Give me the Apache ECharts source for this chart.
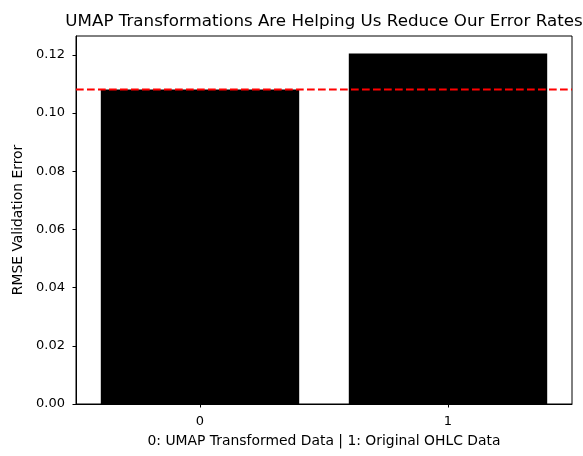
<!DOCTYPE html>
<html>
<head>
<meta charset="utf-8">
<script src="https://cdn.jsdelivr.net/npm/echarts@6/dist/echarts.min.js"></script>
<style>
html, body { margin: 0; padding: 0; background: #fff; }
#chart { width: 583px; height: 456px; }
</style>
</head>
<body>
<div id="chart"></div>
<script>
// Validation RMSE for each input representation
const categories = ['0', '1'];
const rmseValues = [0.1081, 0.1205];
const baselineError = 0.1081;
const yTicks = [0, 0.02, 0.04, 0.06, 0.08, 0.10, 0.12];
const yMax = 0.1265;
// horizontal reference line spans the whole x range (category centres at 0 and 1)
const xSpan = [-0.5, 1.5];

const FONT = 'DejaVu Sans';

const chart = echarts.init(document.getElementById('chart'), null, { renderer: 'canvas' });

chart.setOption({
  animation: false,
  backgroundColor: '#ffffff',
  title: {
    text: 'UMAP Transformations Are Helping Us Reduce Our Error Rates',
    left: 319,
    top: 8,
    textAlign: 'center',
    textStyle: { fontFamily: FONT, fontSize: 16.7, fontWeight: 'normal', color: '#000' }
  },
  grid: {
    left: 76, right: 11, top: 36, bottom: 52,
    show: true, borderColor: '#000', borderWidth: 1, backgroundColor: 'transparent'
  },
  xAxis: [{
    type: 'category',
    data: categories,
    boundaryGap: true,
    name: '0: UMAP Transformed Data | 1: Original OHLC Data',
    nameLocation: 'middle',
    nameGap: 30,
    nameTextStyle: { fontFamily: FONT, fontSize: 13.9, color: '#000' },
    axisLine: { show: true, onZero: false, lineStyle: { color: '#000', width: 1 } },
    axisTick: { show: true, alignWithLabel: true, length: 3.5, lineStyle: { color: '#000' } },
    axisLabel: { fontFamily: FONT, fontSize: 13, color: '#000', margin: 11 },
    splitLine: { show: false }
  }, {
    type: 'value',
    min: xSpan[0],
    max: xSpan[1],
    show: false
  }],
  yAxis: {
    type: 'value',
    min: 0,
    max: yMax,
    name: 'RMSE Validation Error',
    nameLocation: 'middle',
    nameGap: 48,
    nameTextStyle: { fontFamily: FONT, fontSize: 13.9, color: '#000' },
    axisLine: { show: true, onZero: false, lineStyle: { color: '#000', width: 1 } },
    axisTick: { show: true, length: 3.5, customValues: yTicks, lineStyle: { color: '#000' } },
    axisLabel: {
      fontFamily: FONT, fontSize: 13, color: '#000', margin: 11,
      customValues: yTicks,
      formatter: v => v.toFixed(2)
    },
    splitLine: { show: false }
  },
  series: [{
    type: 'bar',
    xAxisIndex: 0,
    data: rmseValues,
    barCategoryGap: '20%',
    itemStyle: { color: '#000000' }
  }, {
    type: 'line',
    xAxisIndex: 1,
    data: xSpan.map(x => [x, baselineError]),
    symbol: 'none',
    silent: true,
    z: 5,
    lineStyle: { color: '#ff0000', width: 2, type: [7.7, 3.3] }
  }]
});
</script>
</body>
</html>
